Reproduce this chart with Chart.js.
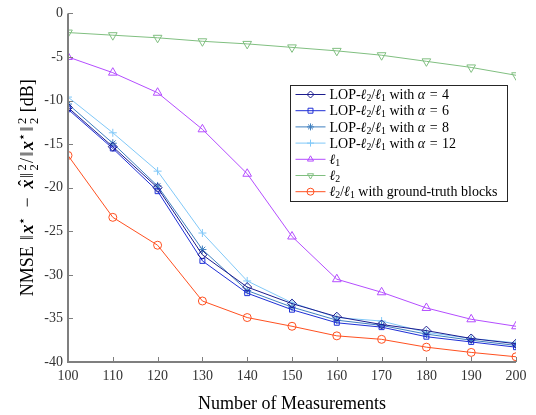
<!DOCTYPE html>
<html>
<head>
<meta charset="utf-8">
<script src="https://cdn.jsdelivr.net/npm/chart.js@4/dist/chart.umd.min.js"></script>
<style>
  html, body { margin: 0; padding: 0; background: #fff; }
  #wrap { width: 536px; height: 415px; }
</style>
</head>
<body>
<div id="wrap"><canvas id="cchart" width="536" height="415"></canvas></div>
<script>
const measurements = [100, 110, 120, 130, 140, 150, 160, 170, 180, 190, 200];
const lopAlpha4 = [-10.8, -15.3, -20.0, -27.7, -31.4, -33.3, -34.8, -35.7, -36.4, -37.3, -37.9];
const lopAlpha6 = [-11.0, -15.5, -20.4, -28.4, -32.1, -34.0, -35.5, -36.0, -37.1, -37.7, -38.3];
const lopAlpha8 = [-10.4, -14.9, -19.8, -27.1, -31.8, -33.7, -35.2, -35.8, -36.8, -37.5, -38.1];
const lopAlpha12 = [-9.6, -13.7, -18.1, -25.2, -30.7, -33.2, -34.9, -35.3, -36.6, -37.3, -37.8];
const ell1 = [-5.0, -6.8, -9.1, -13.3, -18.4, -25.6, -30.5, -32.0, -33.8, -35.1, -35.9];
const ell2 = [-2.2, -2.5, -2.8, -3.2, -3.5, -3.9, -4.3, -4.8, -5.5, -6.2, -7.1];
const groundTruth = [-16.3, -23.4, -26.6, -33.0, -34.9, -35.9, -37.0, -37.4, -38.3, -38.9, -39.4];
const seriesLabels = [
  'LOP-ℓ₂/ℓ₁ with α = 4',
  'LOP-ℓ₂/ℓ₁ with α = 6',
  'LOP-ℓ₂/ℓ₁ with α = 8',
  'LOP-ℓ₂/ℓ₁ with α = 12',
  'ℓ₁',
  'ℓ₂',
  'ℓ₂/ℓ₁ with ground-truth blocks',
];
const yTicks = [0, -5, -10, -15, -20, -25, -30, -35, -40];
const xTicks = [100, 110, 120, 130, 140, 150, 160, 170, 180, 190, 200];

const serif = "'Liberation Serif', 'DejaVu Serif', serif";

let series = (label, values, color, style, extra) => Object.assign({
  label: label,
  data: measurements.map((m, i) => ({ x: m, y: values[i] })),
  borderColor: color,
  backgroundColor: 'rgba(255,255,255,0)',
  borderWidth: 1,
  pointStyle: style,
  pointRadius: 4,
  pointBorderWidth: 1,
  pointBorderColor: color,
  pointBackgroundColor: 'rgba(255,255,255,0)',
  fill: false,
  tension: 0,
}, extra || {});

// little "latex-ish" text: italic symbols, lowered subscripts, wider '='
let parseMath = (s) => {
  const segs = [];
  for (let i = 0; i < s.length; i++) {
    const c = s[i];
    if (c === '₁' || c === '₂') segs.push({ t: c === '₁' ? '1' : '2', pos: 'sub' });
    else if (c === 'ℓ' || c === 'α') segs.push({ t: c, style: 'italic' });
    else if (c === '=') segs.push({ t: ' = ', pad: 1 });
    else if (c === ' ' && (s[i + 1] === '=' || s[i - 1] === '=')) continue;
    else segs.push({ t: c });
  }
  return segs;
};

let drawSegs = (ctx, segs, x, y, size, measureOnly) => {
  let cx = x;
  segs.forEach(sg => {
    let fs = size, dy = 0;
    if (sg.pos === 'sub') { fs = size * 0.7; dy = size * 0.22; }
    if (sg.pos === 'sup') { fs = size * 0.7; dy = -size * 0.38; }
    cx += sg.pad || 0;
    if (sg.pos === 'stack') {
      ctx.font = size * 0.7 + 'px ' + serif;
      const w2 = ctx.measureText(sg.t).width;
      if (!measureOnly) {
        ctx.fillText(sg.t, cx, y - size * 0.4);
        ctx.fillText(sg.t, cx, y + size * 0.27);
      }
      cx += w2 + (sg.pad || 0);
      return;
    }
    ctx.font = (sg.style || '') + ' ' + fs + 'px ' + serif;
    const w = ctx.measureText(sg.t).width;
    if (!measureOnly) {
      ctx.fillText(sg.t, cx, y + dy);
      if (sg.hat) {
        ctx.font = size + 'px ' + serif;
        const hw = ctx.measureText('ˆ').width;
        ctx.fillText('ˆ', cx + (w - hw) / 2 + 1, y - size * 0.12);
      }
    }
    cx += w + (sg.pad || 0);
  });
  return cx - x;
};

// inward tick marks and the L-shaped axis box
const innerTicks = {
  id: 'innerTicks',
  afterDatasetsDraw(chart) {
    const ctx = chart.ctx;
    const xs = chart.scales.x, ys = chart.scales.y;
    const a = chart.chartArea;
    ctx.save();
    ctx.strokeStyle = '#7f7f7f';
    ctx.lineWidth = 1;
    ctx.beginPath();
    yTicks.forEach(v => {
      const py = Math.round(ys.getPixelForValue(v)) + 0.5;
      ctx.moveTo(a.left, py);
      ctx.lineTo(a.left + 5, py);
    });
    xTicks.forEach(v => {
      const px = Math.round(xs.getPixelForValue(v)) + 0.5;
      ctx.moveTo(px, a.bottom);
      ctx.lineTo(px, a.bottom - 5);
    });
    ctx.stroke();
    ctx.lineWidth = 2;
    ctx.beginPath();
    ctx.moveTo(a.left, a.top);
    ctx.lineTo(a.left, a.bottom);
    ctx.lineTo(a.right, a.bottom);
    ctx.stroke();
    ctx.restore();
  },
};

// y title drawn by hand so the math looks right
const yTitle = {
  id: 'yTitle',
  afterDraw(chart) {
    const ctx = chart.ctx;
    const a = chart.chartArea;
    const size = 18;
    const segs = [
      { t: 'NMSE ' },
      { t: '‖', pad: 1.5 },
      { t: 'x', style: 'bold italic' },
      { t: '⋆', pos: 'sup' },
      { t: '\u2002−\u2002' },
      { t: 'x', style: 'bold italic', hat: true },
      { t: '‖', pad: 1.5 },
      { t: '2', pos: 'stack', pad: 1 },
      { t: '/' },
      { t: '‖', pad: 1.5 },
      { t: 'x', style: 'bold italic' },
      { t: '⋆', pos: 'sup' },
      { t: '‖', pad: 1.5 },
      { t: '2', pos: 'stack', pad: 1 },
      { t: ' [dB]' },
    ];
    ctx.save();
    ctx.fillStyle = '#000';
    ctx.textBaseline = 'alphabetic';
    const w = drawSegs(ctx, segs, 0, 0, size, true);
    ctx.translate(33, (a.top + a.bottom) / 2 + w / 2);
    ctx.rotate(-Math.PI / 2);
    drawSegs(ctx, segs, 0, 0, size, false);
    ctx.restore();
  },
};

// boxed legend inside the plot area
const legendBox = {
  id: 'legendBox',
  afterDraw(chart) {
    const ctx = chart.ctx;
    const x0 = 290.5, y0 = 85.5, w = 217, h = 116;
    ctx.save();
    ctx.fillStyle = '#fff';
    ctx.fillRect(x0, y0, w, h);
    ctx.strokeStyle = '#262626';
    ctx.lineWidth = 1;
    ctx.strokeRect(x0, y0, w, h);
    ctx.textBaseline = 'middle';
    chart.data.datasets.forEach((ds, i) => {
      const y = y0 + 9 + i * 16.2;
      ctx.strokeStyle = ds.borderColor;
      ctx.lineWidth = 1;
      ctx.beginPath();
      ctx.moveTo(x0 + 5, y);
      ctx.lineTo(x0 + 35, y);
      ctx.stroke();
      ctx.fillStyle = 'rgba(255,255,255,0)';
      Chart.helpers.drawPoint(ctx, {
        pointStyle: ds.pointStyle,
        radius: 3.5,
        borderWidth: 1,
        rotation: ds.pointRotation || 0,
      }, x0 + 20, y);
      ctx.fillStyle = '#000';
      drawSegs(ctx, parseMath(ds.label), x0 + 39, y + 1, 14, false);
    });
    ctx.restore();
  },
};

let chart = null;
let drawChart = () => {
  const ctx = document.getElementById('cchart');
  if (chart) chart.destroy();

  Chart.defaults.font.family = serif;
  chart = new Chart(ctx, {
    type: 'line',
    data: {
      datasets: [
        series(seriesLabels[0], lopAlpha4, '#1c1c8e', 'rectRot', { pointRadius: 4.5 }),
        series(seriesLabels[1], lopAlpha6, '#1f2fd6', 'rect', { pointRadius: 3.5 }),
        series(seriesLabels[2], lopAlpha8, '#3f7fbf', 'star'),
        series(seriesLabels[3], lopAlpha12, '#80c8f8', 'cross'),
        series(seriesLabels[4], ell1, '#b44dff', 'triangle', { pointRadius: 5 }),
        series(seriesLabels[5], ell2, '#80bf80', 'triangle', { pointRadius: 5, pointRotation: 180 }),
        series(seriesLabels[6], groundTruth, '#ff5020', 'circle'),
      ],
    },
    options: {
      animation: false,
      responsive: true,
      maintainAspectRatio: false,
      layout: { padding: { top: 9, right: 20, left: 0, bottom: 0 } },
      plugins: {
        legend: { display: false },
        tooltip: { enabled: false },
      },
      scales: {
        x: {
          type: 'linear',
          min: 100,
          max: 200,
          afterBuildTicks: (scale) => { scale.ticks = xTicks.map(v => ({ value: v })); },
          afterFit: (scale) => { scale.height = 53; },
          grid: { display: false, drawTicks: false },
          border: { display: false },
          ticks: { color: '#333', font: { size: 14 }, padding: 6 },
          title: {
            display: true,
            text: 'Number of Measurements',
            color: '#000',
            font: { size: 18 },
            padding: { top: 3, bottom: 0 },
          },
        },
        y: {
          min: -40,
          max: 0,
          afterBuildTicks: (scale) => { scale.ticks = yTicks.map(v => ({ value: v })); },
          afterFit: (scale) => { scale.width = 68; },
          grid: { display: false, drawTicks: false },
          border: { display: false },
          ticks: { color: '#333', font: { size: 14 }, padding: 5 },
        },
      },
    },
    plugins: [innerTicks, yTitle, legendBox],
  });
};

drawChart();
window.onresize = () => {
  drawChart();
};
</script>
</body>
</html>
